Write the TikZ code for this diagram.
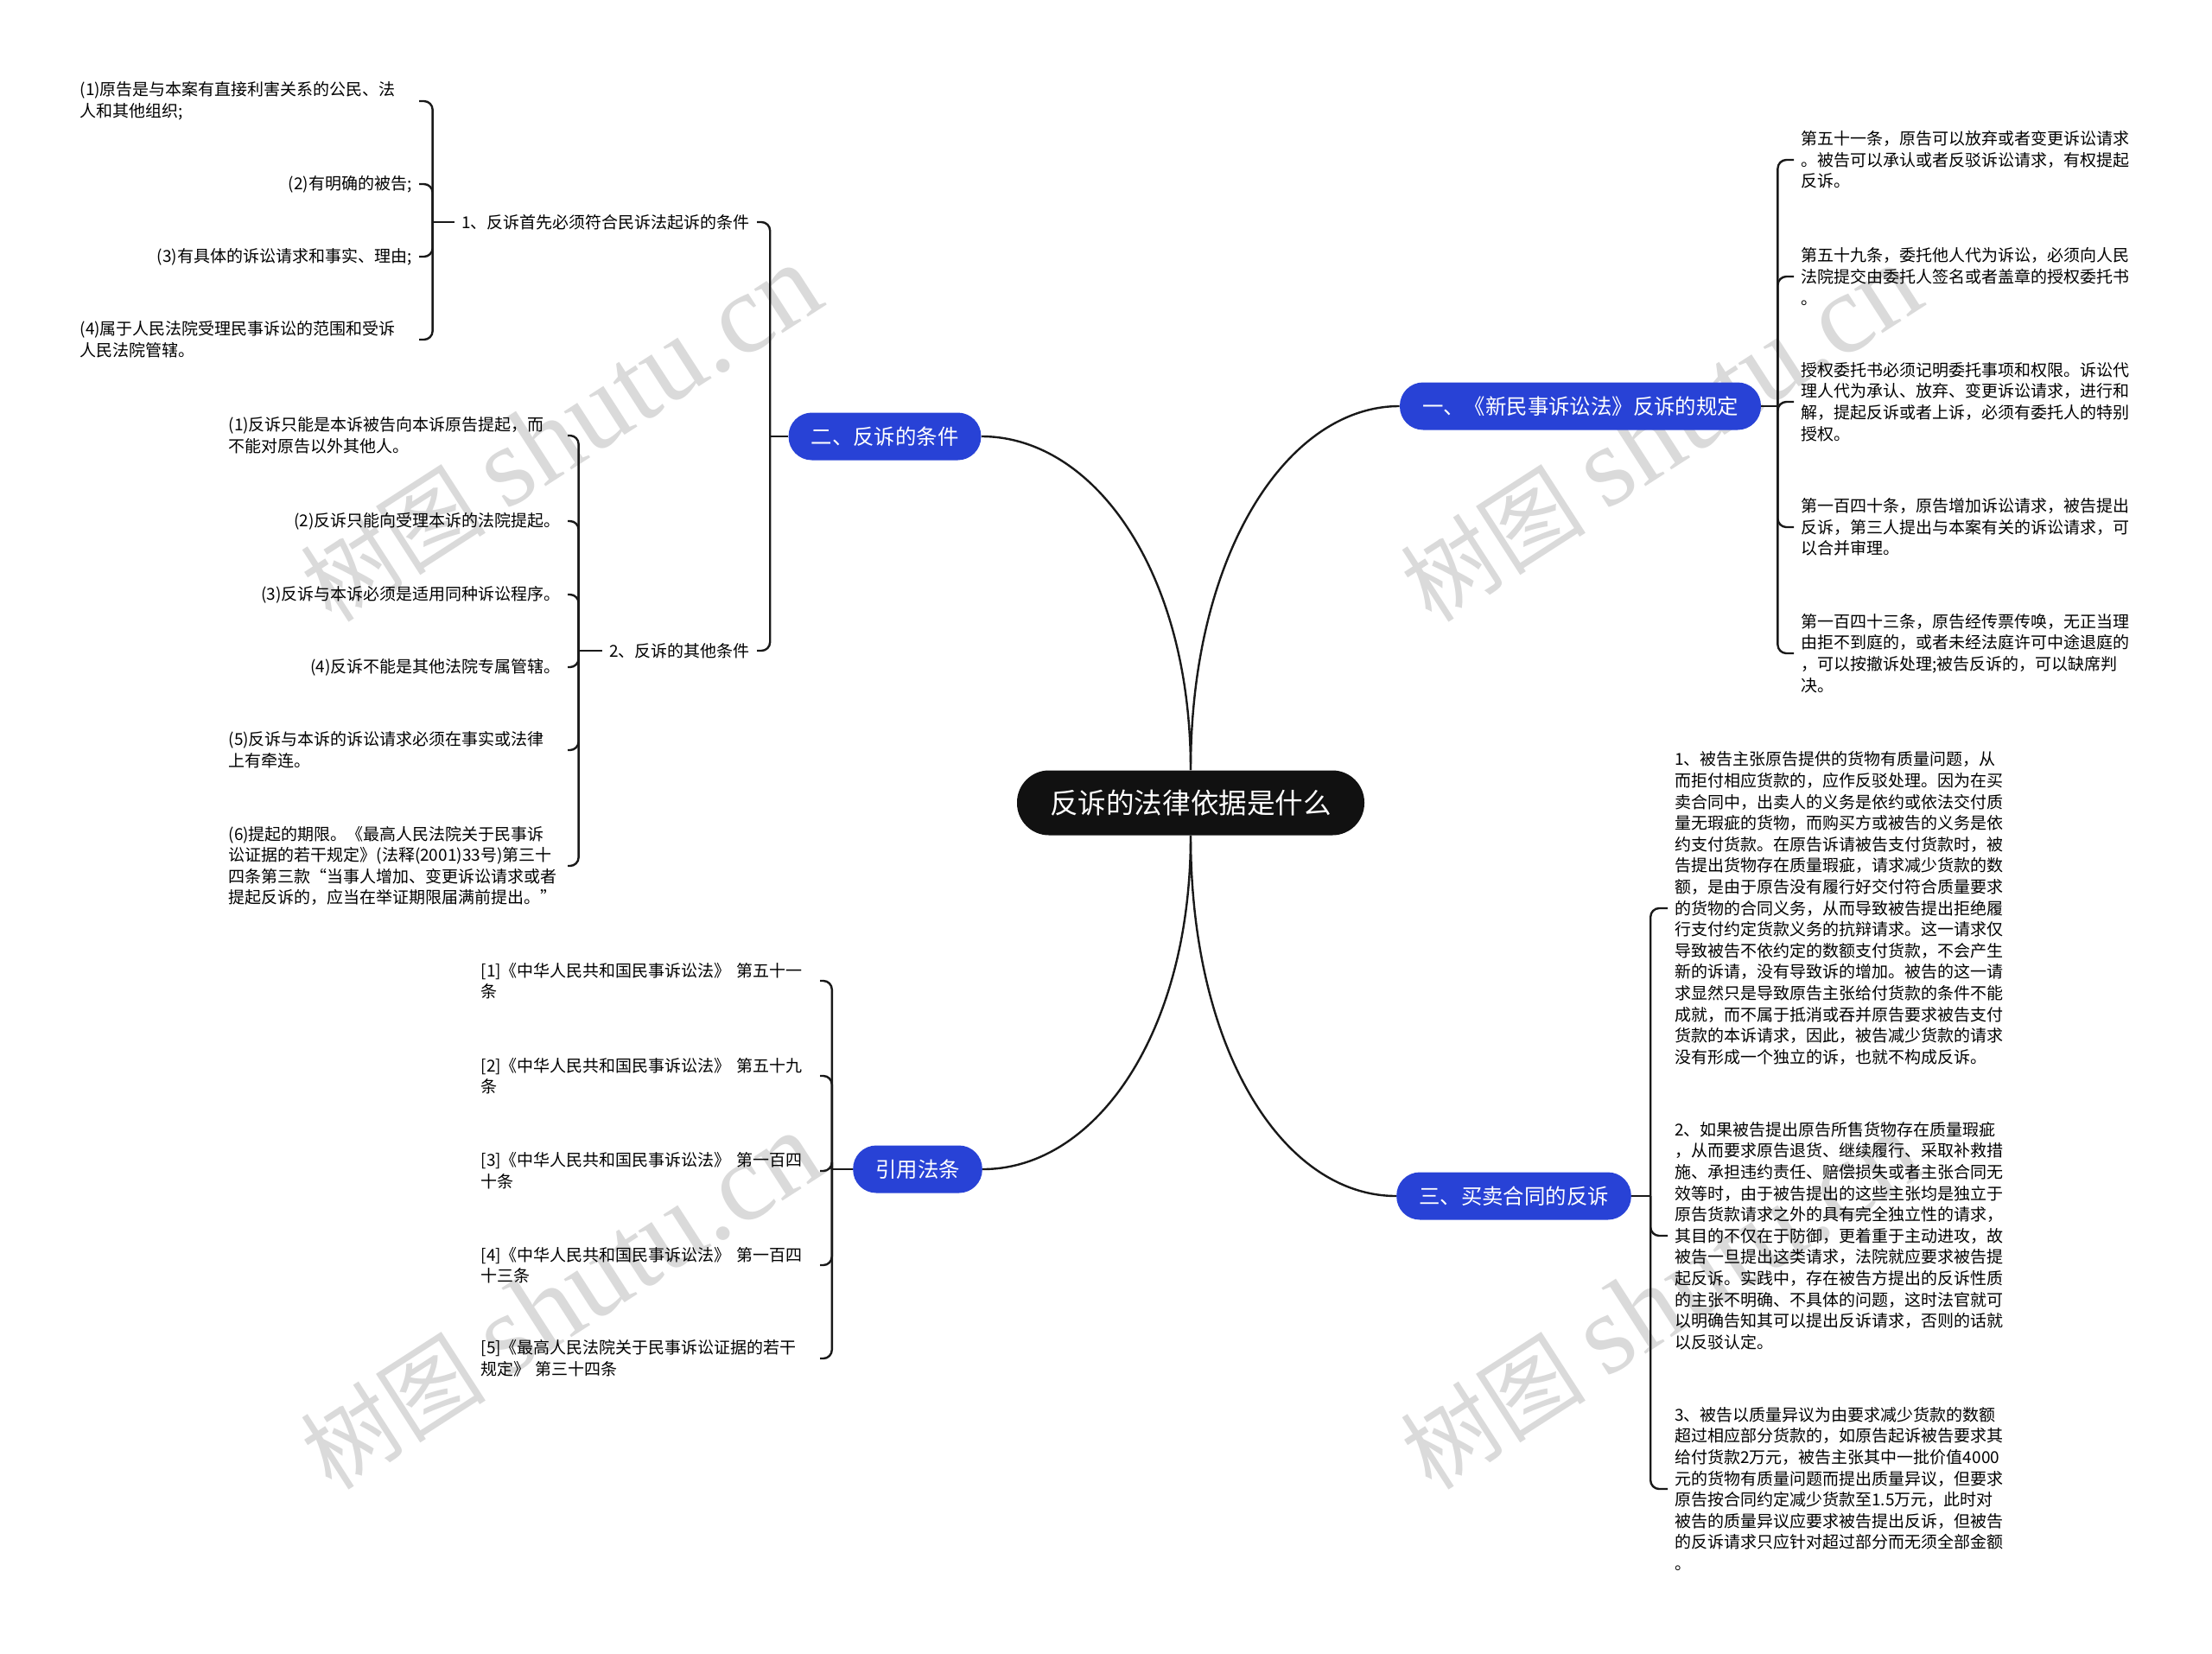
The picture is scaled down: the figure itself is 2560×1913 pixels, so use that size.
\documentclass[tikz,border=0pt]{standalone}
\usepackage{fontspec}
\setmainfont{Noto Sans CJK SC}
\newfontfamily\wmserif{Liberation Serif}
\usepackage{xcolor}
\usepackage{tikz}
\definecolor{mindblue}{RGB}{40,66,214}
\definecolor{rootblack}{RGB}{17,17,17}
\definecolor{linkgray}{RGB}{25,25,25}
\definecolor{markgray}{RGB}{218,218,218}
\tikzset{
  root/.style   = {rectangle, rounded corners=18.5pt, fill=rootblack, text=white,
                   minimum height=37.5pt, inner xsep=19pt, font=\fontsize{16.3}{19}\selectfont},
  branch/.style = {rectangle, rounded corners=13.5pt, fill=mindblue, text=white,
                   minimum height=27.5pt, inner xsep=13pt, font=\fontsize{12.2}{14}\selectfont},
  mid/.style    = {inner sep=4pt, font=\fontsize{9.5}{12.3}\selectfont},
  leaf/.style   = {inner sep=4pt, text width=192pt, align=left,
                   font=\fontsize{9.5}{12.3}\selectfont},
  leafR/.style  = {leaf, align=right},
  link/.style   = {line width=1.2pt, draw=linkgray},
  hook/.style   = {link, rounded corners=5pt},
  wmark/.style  = {text=markgray, rotate=32.8, font=\fontsize{54}{60}\selectfont},
}
\begin{document}
\begin{tikzpicture}[x=0.5pt, y=-0.5pt]
    \fill[white] (0,0) rectangle (2560,1913);
    \useasboundingbox (0,0) rectangle (2560,1913);

    %% Watermark
    \node[wmark] (wm1) at ( 649, 502) {树图 {\wmserif\fontsize{66}{70}\selectfont shutu.cn}};
    \node[wmark] (wm2) at (1922, 502) {树图 {\wmserif\fontsize{66}{70}\selectfont shutu.cn}};
    \node[wmark] (wm3) at ( 649,1506) {树图 {\wmserif\fontsize{66}{70}\selectfont shutu.cn}};
    \node[wmark] (wm4) at (1922,1506) {树图 {\wmserif\fontsize{66}{70}\selectfont shutu.cn}};

    %% Centre and main branches
    \node[root]   (root) at (1378, 929) {反诉的法律依据是什么};
    \node[branch] (law)  at (1829, 470) {一、《新民事诉讼法》反诉的规定};
    \node[branch] (cond) at (1024, 505) {二、反诉的条件};
    \node[branch] (cite) at (1062,1353) {引用法条};
    \node[branch] (sale) at (1752,1384) {三、买卖合同的反诉};

    \draw[link] (root.north) .. controls +(0,-250) and +(-130,0) .. (law.west);
    \draw[link] (root.north) .. controls +(0,-230) and +(130,0)  .. (cond.east);
    \draw[link] (root.south) .. controls +(0,230)  and +(130,0)  .. (cite.east);
    \draw[link] (root.south) .. controls +(0,250)  and +(-130,0) .. (sale.west);

    %% Branch 1 (right, top)
    \node[leaf, anchor=west] (law1) at (2076, 185) {第五十一条，原告可以放弃或者变更诉讼请求\\。被告可以承认或者反驳诉讼请求，有权提起\\反诉。};
    \node[leaf, anchor=west] (law2) at (2076, 320) {第五十九条，委托他人代为诉讼，必须向人民\\法院提交由委托人签名或者盖章的授权委托书\\。};
    \node[leaf, anchor=west] (law3) at (2076, 465) {授权委托书必须记明委托事项和权限。诉讼代\\理人代为承认、放弃、变更诉讼请求，进行和\\解，提起反诉或者上诉，必须有委托人的特别\\授权。};
    \node[leaf, anchor=west] (law4) at (2076, 610) {第一百四十条，原告增加诉讼请求，被告提出\\反诉，第三人提出与本案有关的诉讼请求，可\\以合并审理。};
    \node[leaf, anchor=west] (law5) at (2076, 756) {第一百四十三条，原告经传票传唤，无正当理\\由拒不到庭的，或者未经法庭许可中途退庭的\\，可以按撤诉处理;被告反诉的，可以缺席判\\决。};

    \draw[link] (law.east) -- ++(19,0) coordinate (lawJ);
    \draw[hook] (lawJ) |- (law1.west);
    \draw[hook] (lawJ) |- (law2.west);
    \draw[hook] (lawJ) |- (law3.west);
    \draw[hook] (lawJ) |- (law4.west);
    \draw[hook] (lawJ) |- (law5.west);

    %% Branch 2 (left, top)
    \node[mid, anchor=east] (need) at (876, 257) {1、反诉首先必须符合民诉法起诉的条件};
    \node[mid, anchor=east] (other) at (876, 753) {2、反诉的其他条件};

    \draw[link] (cond.west) -- ++(-21,0) coordinate (condJ);
    \draw[hook] (condJ) |- (need.east);
    \draw[hook] (condJ) |- (other.east);

    \node[leaf,  anchor=east] (need1) at (485, 117) {(1)原告是与本案有直接利害关系的公民、法\\人和其他组织;};
    \node[leafR, anchor=east] (need2) at (485, 213) {(2)有明确的被告;};
    \node[leafR, anchor=east] (need3) at (485, 297) {(3)有具体的诉讼请求和事实、理由;};
    \node[leaf,  anchor=east] (need4) at (485, 393) {(4)属于人民法院受理民事诉讼的范围和受诉\\人民法院管辖。};

    \draw[link] (need.west) -- ++(-25,0) coordinate (needJ);
    \draw[hook] (needJ) |- (need1.east);
    \draw[hook] (needJ) |- (need2.east);
    \draw[hook] (needJ) |- (need3.east);
    \draw[hook] (needJ) |- (need4.east);

    \node[leaf,  anchor=east] (other1) at (657, 504) {(1)反诉只能是本诉被告向本诉原告提起，而\\不能对原告以外其他人。};
    \node[leafR, anchor=east] (other2) at (657, 603) {(2)反诉只能向受理本诉的法院提起。};
    \node[leafR, anchor=east] (other3) at (657, 688) {(3)反诉与本诉必须是适用同种诉讼程序。};
    \node[leafR, anchor=east] (other4) at (657, 772) {(4)反诉不能是其他法院专属管辖。};
    \node[leaf,  anchor=east] (other5) at (657, 868) {(5)反诉与本诉的诉讼请求必须在事实或法律\\上有牵连。};
    \node[leaf,  anchor=east] (other6) at (657,1002) {(6)提起的期限。《最高人民法院关于民事诉\\讼证据的若干规定》(法释(2001)33号)第三十\\四条第三款“当事人增加、变更诉讼请求或者\\提起反诉的，应当在举证期限届满前提出。”};

    \draw[link] (other.west) -- ++(-27,0) coordinate (otherJ);
    \draw[hook] (otherJ) |- (other1.east);
    \draw[hook] (otherJ) |- (other2.east);
    \draw[hook] (otherJ) |- (other3.east);
    \draw[hook] (otherJ) |- (other4.east);
    \draw[hook] (otherJ) |- (other5.east);
    \draw[hook] (otherJ) |- (other6.east);

    %% Cited articles (left, bottom)
    \node[leaf, anchor=east] (cite1) at (949,1135) {[1]《中华人民共和国民事诉讼法》 第五十一\\条};
    \node[leaf, anchor=east] (cite2) at (949,1245) {[2]《中华人民共和国民事诉讼法》 第五十九\\条};
    \node[leaf, anchor=east] (cite3) at (949,1355) {[3]《中华人民共和国民事诉讼法》 第一百四\\十条};
    \node[leaf, anchor=east] (cite4) at (949,1464) {[4]《中华人民共和国民事诉讼法》 第一百四\\十三条};
    \node[leaf, anchor=east] (cite5) at (949,1572) {[5]《最高人民法院关于民事诉讼证据的若干\\规定》 第三十四条};

    \draw[link] (cite.west) -- ++(-24,0) coordinate (citeJ);
    \draw[hook] (citeJ) |- (cite1.east);
    \draw[hook] (citeJ) |- (cite2.east);
    \draw[hook] (citeJ) |- (cite3.east);
    \draw[hook] (citeJ) |- (cite4.east);
    \draw[hook] (citeJ) |- (cite5.east);

    %% Branch 3 (right, bottom)
    \node[leaf, anchor=west] (sale1) at (1930,1051) {1、被告主张原告提供的货物有质量问题，从\\而拒付相应货款的，应作反驳处理。因为在买\\卖合同中，出卖人的义务是依约或依法交付质\\量无瑕疵的货物，而购买方或被告的义务是依\\约支付货款。在原告诉请被告支付货款时，被\\告提出货物存在质量瑕疵，请求减少货款的数\\额，是由于原告没有履行好交付符合质量要求\\的货物的合同义务，从而导致被告提出拒绝履\\行支付约定货款义务的抗辩请求。这一请求仅\\导致被告不依约定的数额支付货款，不会产生\\新的诉请，没有导致诉的增加。被告的这一请\\求显然只是导致原告主张给付货款的条件不能\\成就，而不属于抵消或吞并原告要求被告支付\\货款的本诉请求，因此，被告减少货款的请求\\没有形成一个独立的诉，也就不构成反诉。};
    \node[leaf, anchor=west] (sale2) at (1930,1430) {2、如果被告提出原告所售货物存在质量瑕疵\\，从而要求原告退货、继续履行、采取补救措\\施、承担违约责任、赔偿损失或者主张合同无\\效等时，由于被告提出的这些主张均是独立于\\原告货款请求之外的具有完全独立性的请求，\\其目的不仅在于防御，更着重于主动进攻，故\\被告一旦提出这类请求，法院就应要求被告提\\起反诉。实践中，存在被告方提出的反诉性质\\的主张不明确、不具体的问题，这时法官就可\\以明确告知其可以提出反诉请求，否则的话就\\以反驳认定。};
    \node[leaf, anchor=west] (sale3) at (1930,1723) {3、被告以质量异议为由要求减少货款的数额\\超过相应部分货款的，如原告起诉被告要求其\\给付货款2万元，被告主张其中一批价值4000\\元的货物有质量问题而提出质量异议，但要求\\原告按合同约定减少货款至1.5万元，此时对\\被告的质量异议应要求被告提出反诉，但被告\\的反诉请求只应针对超过部分而无须全部金额\\。};

    \draw[link] (sale.east) -- ++(22,0) coordinate (saleJ);
    \draw[hook] (saleJ) |- (sale1.west);
    \draw[hook] (saleJ) |- (sale2.west);
    \draw[hook] (saleJ) |- (sale3.west);

\end{tikzpicture}
\end{document}
